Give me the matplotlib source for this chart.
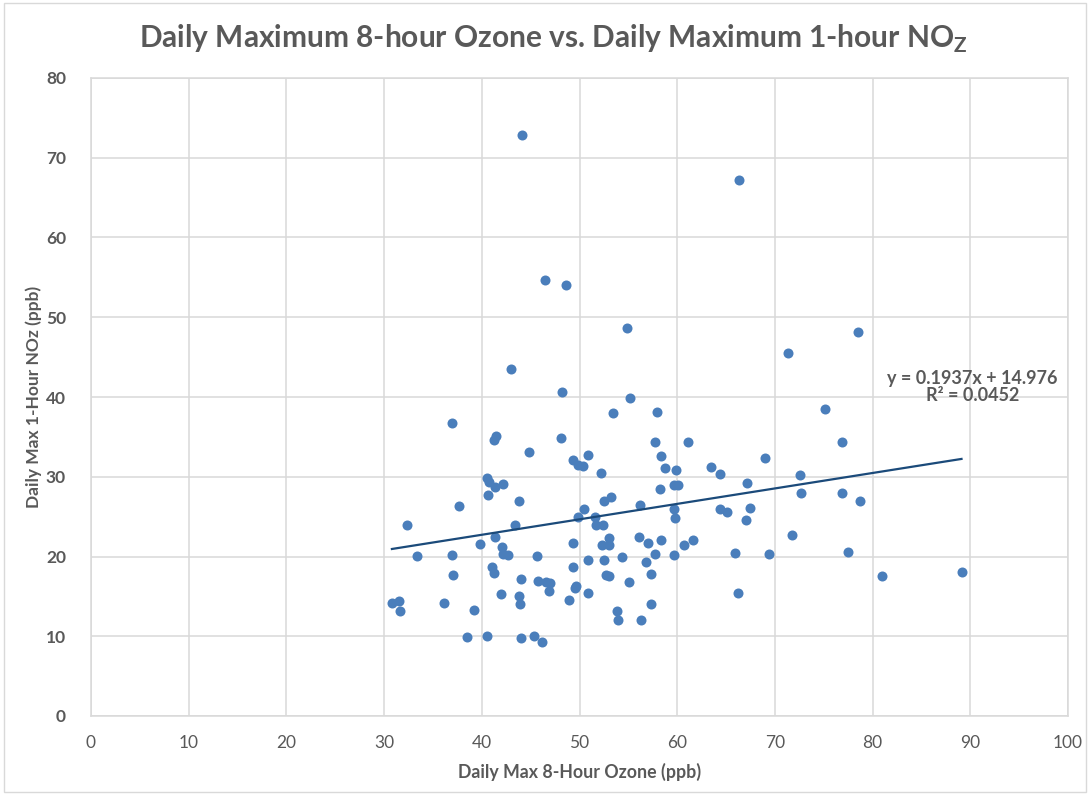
import matplotlib
matplotlib.use("Agg")
import matplotlib.pyplot as plt
import numpy as np

# Valeurs (ppb)
ozone = [
    44.1, 66.3, 46.5, 48.6, 54.9, 43.0, 48.2, 55.2,
    78.5, 71.3, 75.1, 76.9, 69.0, 72.6, 72.7, 76.9, 78.7, 71.7, 69.4, 77.5, 81.0, 89.1,
    53.4, 57.9, 57.7, 61.1, 50.9, 49.3, 49.8, 50.4, 58.3, 58.8, 59.9, 63.5, 64.4, 52.2,
    67.1, 59.7, 60.1, 58.2, 53.2, 52.5, 56.2, 50.5, 67.5, 64.4, 65.1, 59.7, 59.8, 49.8,
    51.6, 67.0, 51.7, 52.4, 56.1, 58.3, 61.6, 60.7, 53.0, 52.3, 53.0, 57.0, 49.3, 54.4,
    57.7, 59.7, 65.9, 50.9, 52.5, 56.8, 49.3, 52.7, 53.0, 57.3, 55.1, 49.6, 49.5, 50.9,
    66.2, 48.9, 57.3, 53.8, 53.9, 56.3,
    36.9, 41.5, 41.2, 48.1, 44.8, 40.5, 40.7, 41.3, 42.2, 40.6, 43.8, 37.7, 32.3, 43.4,
    41.4, 39.8, 42.1, 42.2, 42.7, 33.4, 36.9, 45.6, 37.1, 41.0, 41.2, 44.0, 45.8, 46.6,
    47.0, 46.9, 42.0, 43.8, 43.9, 30.8, 31.5, 31.6, 36.1, 39.2, 38.5, 40.5, 44.0, 45.3,
    46.2,
]
nox = [
    72.8, 67.2, 54.7, 54.1, 48.6, 43.5, 40.6, 39.9,
    48.2, 45.5, 38.5, 34.4, 32.3, 30.2, 28.0, 28.0, 26.9, 22.7, 20.3, 20.6, 17.6, 18.0,
    38.0, 38.1, 34.3, 34.3, 32.7, 32.1, 31.5, 31.4, 32.6, 31.1, 30.9, 31.2, 30.3, 30.5,
    29.2, 29.0, 29.0, 28.5, 27.4, 26.9, 26.4, 25.9, 26.1, 25.9, 25.6, 26.0, 24.8, 24.9,
    25.0, 24.6, 23.9, 23.9, 22.4, 22.1, 22.1, 21.5, 22.3, 21.4, 21.4, 21.7, 21.7, 19.9,
    20.3, 20.2, 20.5, 19.5, 19.5, 19.3, 18.7, 17.7, 17.5, 17.8, 16.8, 16.3, 16.0, 15.4,
    15.4, 14.5, 14.0, 13.2, 12.1, 12.0,
    36.8, 35.1, 34.6, 34.8, 33.1, 29.9, 29.3, 28.7, 29.1, 27.7, 27.0, 26.3, 23.9, 23.9,
    22.4, 21.6, 21.2, 20.3, 20.2, 20.1, 20.2, 20.1, 17.7, 18.7, 17.9, 17.2, 16.9, 16.8,
    16.7, 15.7, 15.3, 15.0, 14.1, 14.2, 14.4, 13.2, 14.2, 13.3, 9.9, 10.0, 9.8, 10.0,
    9.3,
]
slope = 0.1937
intercept = 14.976
r2 = 0.0452

grey = '#595959'
plt.rcParams['font.family'] = ['Lato', 'DejaVu Sans']

fig = plt.figure(figsize=(10.9, 7.95), dpi=100)
ax = fig.add_axes([91 / 1090, 1 - 716 / 795, 977 / 1090, 638 / 795])

ax.scatter(ozone, nox, s=52, color='#4A7EBB', linewidths=0, zorder=3)

xs = np.array([min(ozone), max(ozone)])
ax.plot(xs, slope * xs + intercept, color='#1B4A7A', lw=1.6, zorder=4)
ax.text(90.2, 41.2, 'y = %.4fx + %.3f\nR² = %.4f' % (slope, intercept, r2),
        ha='center', va='center', fontsize=13, fontweight='bold', color=grey,
        linespacing=1.0, zorder=5)

ax.set_xlim(0, 100)
ax.set_ylim(0, 80)
ax.set_xticks(range(0, 101, 10))
ax.set_yticks(range(0, 81, 10))
ax.grid(True, color='#D9D9D9', lw=1.1)
ax.set_axisbelow(True)
for s in ax.spines.values():
    s.set_color('#D9D9D9')
    s.set_linewidth(1.1)
ax.tick_params(length=0, colors=grey, labelsize=12.5)
ax.tick_params(axis='x', pad=14)
ax.tick_params(axis='y', pad=18)
for lab in ax.get_yticklabels():
    lab.set_fontweight('bold')

ax.set_xlabel('Daily Max 8-Hour Ozone (ppb)', fontsize=12.8, fontweight='bold',
              color=grey, labelpad=8)
ax.set_ylabel('Daily Max 1-Hour NOz (ppb)', fontsize=12.5, fontweight='bold',
              color=grey, labelpad=3)

fig.text(0.508, 0.951, r'Daily Maximum 8-hour Ozone vs. Daily Maximum 1-hour NO$_\mathregular{Z}$',
         ha='center', va='center', fontsize=21.5, fontweight='bold', color=grey)

fig.patches.append(plt.Rectangle((0.004, 0.004), 0.992, 0.992, transform=fig.transFigure,
                                 fill=False, edgecolor='#D9D9D9', lw=1))

plt.savefig('out.png', dpi=100)
